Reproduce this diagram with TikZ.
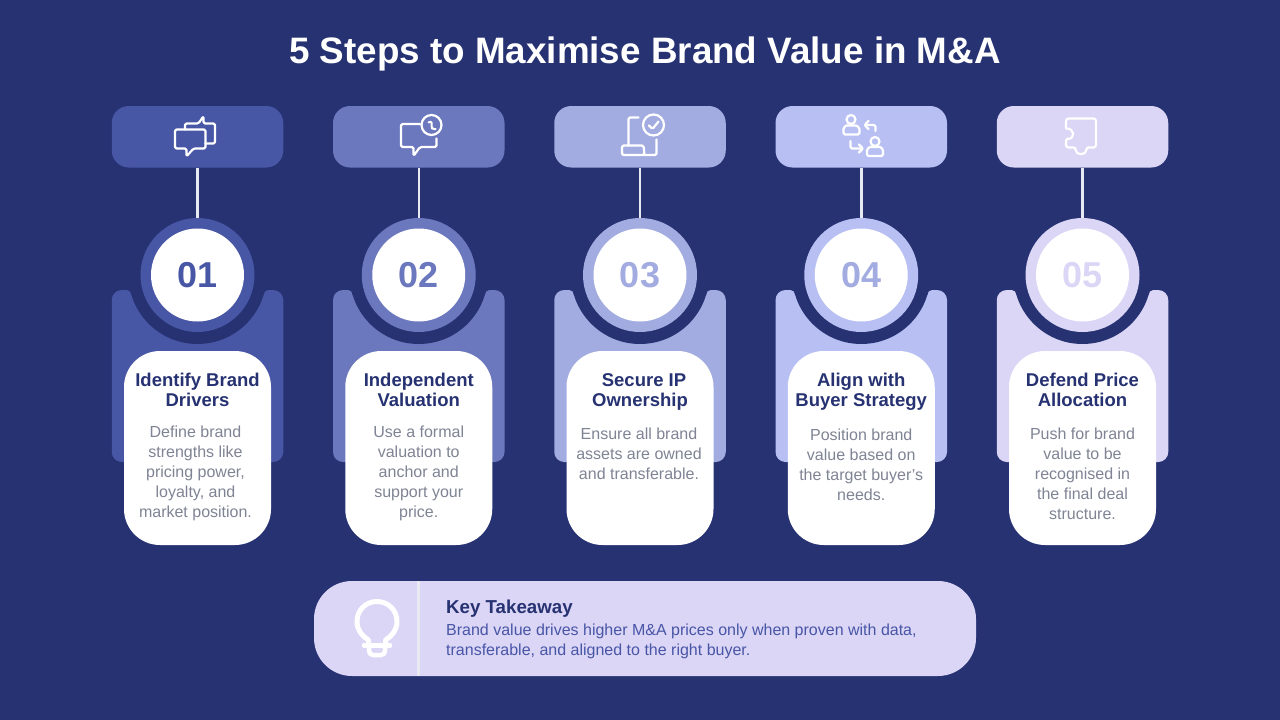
\documentclass[tikz,border=0pt]{standalone}
\usepackage{fontspec}
\setmainfont{Liberation Sans}
\usetikzlibrary{positioning}

\definecolor{navy}{HTML}{273272}
\definecolor{stepA}{HTML}{4856A6}
\definecolor{stepB}{HTML}{6C78BE}
\definecolor{stepC}{HTML}{A3ACE0}
\definecolor{stepD}{HTML}{B7BFF3}
\definecolor{stepE}{HTML}{DBD5F6}
\definecolor{bodygray}{HTML}{7F8494}
\definecolor{stemgray}{HTML}{E9E9F1}

\begin{document}
\begin{tikzpicture}[
    x=1pt, y=-1pt,
    iconbox/.style = {
      rounded corners=17pt,
      minimum width=171.5pt, minimum height=61.5pt,
      inner sep=0pt, outer sep=0pt
    },
    bodybox/.style = {
      rounded corners=10pt,
      minimum width=171.5pt, minimum height=172pt,
      inner sep=0pt, outer sep=0pt
    },
    notch/.style = {
      circle, fill=navy, minimum size=138pt,
      inner sep=0pt, outer sep=0pt
    },
    ring/.style = {
      circle, minimum size=114pt,
      inner sep=0pt, outer sep=0pt
    },
    disc/.style = {
      circle, fill=white, minimum size=93pt,
      inner sep=0pt, outer sep=0pt,
      font=\fontsize{36}{36}\selectfont\bfseries
    },
    card/.style = {
      fill=white, rounded corners=36pt,
      minimum width=147pt, minimum height=194pt,
      inner sep=0pt, outer sep=0pt
    },
    cardtitle/.style = {
      text=navy, align=center, inner sep=0pt,
      font=\fontsize{18.5}{20}\selectfont\bfseries
    },
    cardtext/.style = {
      text=bodygray, align=center, inner sep=0pt,
      font=\fontsize{16}{20}\selectfont
    },
    stem/.style     = {draw=stemgray, line width=2.5pt},
    iconline/.style = {draw=white, line width=2.2pt, rounded corners=1.5pt,
      line cap=round, line join=round},
    tips/.pic = {
      \fill[navy] (-70.5,15) .. controls (-67.5,15) and (-66.5,17) .. (-66,20) -- (-65.5,15) -- cycle;
      \fill[navy] (70.5,15) .. controls (67.5,15) and (66.5,17) .. (66,20) -- (65.5,15) -- cycle;
    }
  ]

    \fill[navy] (0,0) rectangle (1280,720);
    \useasboundingbox (0,0) rectangle (1280,720);

    \node[text=white, inner sep=0pt, font=\fontsize{36.8}{40}\selectfont\bfseries] (title)
      at (645,54) {5 Steps to Maximise Brand Value in M\&A};

    % Icon boxes
    \node[iconbox, fill=stepA] (iconA) at (197.5,136.75) {};
    \node[iconbox, fill=stepB, right=49.75pt of iconA] (iconB) {};
    \node[iconbox, fill=stepC, right=49.75pt of iconB] (iconC) {};
    \node[iconbox, fill=stepD, right=49.75pt of iconC] (iconD) {};
    \node[iconbox, fill=stepE, right=49.75pt of iconD] (iconE) {};

    % Bodies behind the cards
    \node[bodybox, fill=stepA, below=122.5pt of iconA] (bodyA) {};
    \node[bodybox, fill=stepB, below=122.5pt of iconB] (bodyB) {};
    \node[bodybox, fill=stepC, below=122.5pt of iconC] (bodyC) {};
    \node[bodybox, fill=stepD, below=122.5pt of iconD] (bodyD) {};
    \node[bodybox, fill=stepE, below=122.5pt of iconE] (bodyE) {};

    \node[notch, below=38.5pt of iconA] (notchA) {};
    \node[notch, below=38.5pt of iconB] (notchB) {};
    \node[notch, below=38.5pt of iconC] (notchC) {};
    \node[notch, below=38.5pt of iconD] (notchD) {};
    \node[notch, below=38.5pt of iconE] (notchE) {};

    \pic at (notchA) {tips};
    \pic at (notchB) {tips};
    \pic at (notchC) {tips};
    \pic at (notchD) {tips};
    \pic at (notchE) {tips};

    % Rings and numbers
    \node[ring, fill=stepA, below=50.5pt of iconA] (ringA) {};
    \node[ring, fill=stepB, below=50.5pt of iconB] (ringB) {};
    \node[ring, fill=stepC, below=50.5pt of iconC] (ringC) {};
    \node[ring, fill=stepD, below=50.5pt of iconD] (ringD) {};
    \node[ring, fill=stepE, below=50.5pt of iconE] (ringE) {};

    \node[disc, text=stepA] (numA) at (ringA) {01};
    \node[disc, text=stepB] (numB) at (ringB) {02};
    \node[disc, text=stepC] (numC) at (ringC) {03};
    \node[disc, text=stepC] (numD) at (ringD) {04};
    \node[disc, text=stepE] (numE) at (ringE) {05};

    \draw[stem] (iconA) -- (ringA);
    \draw[stem] (iconB) -- (ringB);
    \draw[stem] (iconC) -- (ringC);
    \draw[stem] (iconD) -- (ringD);
    \draw[stem] (iconE) -- (ringE);

    % Cards
    \node[card, below=183.5pt of iconA] (cardA) {};
    \node[card, below=183.5pt of iconB] (cardB) {};
    \node[card, below=183.5pt of iconC] (cardC) {};
    \node[card, below=183.5pt of iconD] (cardD) {};
    \node[card, below=183.5pt of iconE] (cardE) {};

    \node[cardtitle, below=22pt of cardA.north] (headA) {Identify Brand\\Drivers};
    \node[cardtitle, below=22pt of cardB.north] (headB) {Independent\\Valuation};
    \node[cardtitle, below=22pt of cardC.north] (headC) {\hspace*{8pt}Secure IP\\Ownership};
    \node[cardtitle, below=22pt of cardD.north] (headD) {Align with\\Buyer Strategy};
    \node[cardtitle, below=22pt of cardE.north] (headE) {Defend Price\\Allocation};

    \node[cardtext, below=19pt of headA, xshift=-2pt] (textA)
      {Define brand\\strengths like\\pricing power,\\loyalty, and\\market position.};
    \node[cardtext, below=19pt of headB] (textB)
      {Use a formal\\valuation to\\anchor and\\support your\\price.};
    \node[cardtext, below=18pt of headC, xshift=-1pt] (textC)
      {Ensure all brand\\assets are owned\\and transferable.};
    \node[cardtext, below=18pt of headD] (textD)
      {Position brand\\value based on\\the target buyer's\\needs.};
    \node[cardtext, below=21pt of headE] (textE)
      {Push for brand\\value to be\\recognised in\\the final deal\\structure.};

    % Icons
    \draw[iconline] (175,129.5) -- (205.5,129.5) -- (205.5,148.5) -- (193.5,148.5) -- (186.5,156.5)
      -- (186.5,148.5) -- (175,148.5) -- cycle;
    \draw[iconline] (185,129.5) -- (185,123.5) -- (198.5,123.5) -- (203.5,116) -- (203.5,123.5)
      -- (215,123.5) -- (215,143.5) -- (205.5,143.5);

    \draw[iconline] (420,124) -- (401,124) -- (401,147) -- (413.5,147) -- (413.5,156)
      -- (420,147) -- (436.5,147) -- (436.5,138.5);
    \draw[iconline] (431.5,125) circle[radius=10];
    \draw[iconline, line width=2pt] (428.5,122.5) -- (431.5,121) -- (431.5,127.5) -- (432.5,129) -- (435.5,129);

    \draw[iconline] (638.5,117.5) -- (628.5,117.5) -- (628.5,145.5);
    \draw[iconline] (622,145.5) -- (643.5,145.5) -- (644.5,155) -- (622,155) -- cycle;
    \draw[iconline] (644.5,155) -- (656.5,155) -- (656.5,139.5);
    \draw[iconline] (653.5,125) circle[radius=10.5];
    \draw[iconline] (649,125.5) -- (652.5,129) -- (658.5,121.5);

    \draw[iconline] (851,119.5) circle[radius=4.5];
    \draw[iconline] (843.5,130.5) .. controls (843.5,127.5) and (846,125.5) .. (848,125.5) -- (854.5,125.5)
      .. controls (856.5,125.5) and (859.5,127.5) .. (859.5,130.5) -- (859.5,134.5) -- (843.5,134.5) -- cycle;
    \draw[iconline] (875.5,131) -- (875.5,125) -- (865,125);
    \draw[iconline] (868.5,121) -- (864.5,125) -- (868.5,129);
    \draw[iconline] (850.5,141) -- (850.5,148.5) -- (862.5,148.5);
    \draw[iconline] (859,144.5) -- (863,148.5) -- (859,152.5);
    \draw[iconline] (875,141.5) circle[radius=4.5];
    \draw[iconline] (867,152) .. controls (867,149) and (869.5,147) .. (871.5,147) -- (878.5,147)
      .. controls (880.5,147) and (883,149) .. (883,152) -- (883,156) -- (867,156) -- cycle;

    \draw[iconline, rounded corners=2.5pt] (1066,128.5) -- (1066,118.5) -- (1096,118.5) -- (1096,147.5)
      -- (1086,147.5) .. controls (1087,155.5) and (1075,155.5) .. (1076,147.5)
      -- (1066,147.5) -- (1066,138.5) .. controls (1075,139) and (1075,128) .. (1066,128.5);

    % Key takeaway
    \node[fill=stepE, rounded corners=38pt, minimum width=662pt, minimum height=95pt,
          inner sep=0pt, outer sep=0pt] (takeaway) at (645,628.5) {};
    \draw[draw=stemgray, line width=3pt] (takeaway.north west -| 418.5,0) -- (takeaway.south west -| 418.5,0);

    \draw[iconline, line width=5pt, rounded corners=0pt] (368.5,645) -- (368.5,640)
      .. controls (362,636) and (357,630) .. (357,621.5)
      .. controls (357,610) and (366,601.5) .. (377,601.5)
      .. controls (388,601.5) and (397,610) .. (397,621.5)
      .. controls (397,630) and (392,636) .. (385.5,640) -- (385.5,645);
    \draw[iconline, line width=4.5pt] (364,645.5) -- (390,645.5);
    \draw[iconline, line width=4.5pt, rounded corners=4pt] (369,645.5) -- (369,655) -- (385,655) -- (385,645.5);

    \node[anchor=north west, inner sep=0pt, text=navy,
          font=\fontsize{18.7}{20}\selectfont\bfseries] (keyhead) at (446,600) {Key Takeaway};
    \node[inner sep=0pt, text=stepA, align=left,
          font=\fontsize{16}{20}\selectfont, below=6pt of keyhead.south west, anchor=north west] (keytext)
      {Brand value drives higher M\&A prices only when proven with data,\\
       transferable, and aligned to the right buyer.};

  \end{tikzpicture}
\end{document}
